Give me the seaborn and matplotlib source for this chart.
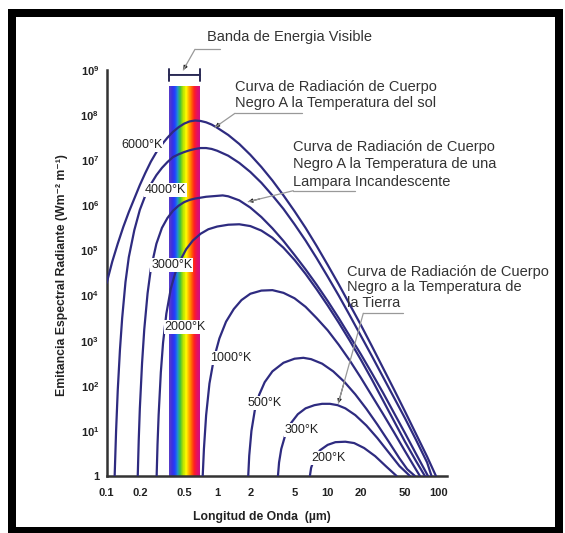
import numpy as np
import pandas as pd
import matplotlib
matplotlib.use("Agg")
import matplotlib.pyplot as plt
import seaborn as sns
from matplotlib.lines import Line2D
from matplotlib.patches import Rectangle
from matplotlib.colors import LinearSegmentedColormap

sns.set_style("white")
plt.rcParams['font.family'] = ['Liberation Sans', 'DejaVu Sans']
plt.rcParams['mathtext.fontset'] = 'custom'
plt.rcParams['mathtext.rm'] = 'Liberation Sans'
plt.rcParams['mathtext.bf'] = 'Liberation Sans:bold'
plt.rcParams['mathtext.it'] = 'Liberation Sans:italic'

# ------------- data: log10(wavelength, um) and log10(spectral emittance) -------------
t6000_lx = [-1.0, -0.95, -0.9, -0.85, -0.8, -0.75, -0.7, -0.65, -0.6, -0.55, -0.5, -0.45, -0.4,
            -0.35, -0.3, -0.25, -0.2, -0.15, -0.1, -0.05, 0.0, 0.1, 0.2, 0.3, 0.4, 0.5, 0.6, 0.7,
            0.8, 0.9, 1.0, 1.1, 1.2, 1.3, 1.4, 1.5, 1.6, 1.7, 1.8, 1.9, 1.98]
t6000_ly = [4.28, 4.75, 5.15, 5.52, 5.85, 6.15, 6.45, 6.72, 6.97, 7.18, 7.35, 7.50, 7.63,
            7.73, 7.81, 7.86, 7.88, 7.87, 7.84, 7.79, 7.72, 7.56, 7.36, 7.12, 6.85, 6.55, 6.22, 5.87,
            5.50, 5.10, 4.68, 4.25, 3.80, 3.35, 2.88, 2.40, 1.92, 1.43, 0.93, 0.43, 0.0]
t4000_lx = [-0.928, -0.915, -0.9, -0.88, -0.86, -0.83, -0.8, -0.75, -0.7, -0.65, -0.6, -0.55, -0.5,
            -0.45, -0.4, -0.35, -0.3, -0.25, -0.2, -0.15, -0.1, -0.05, 0.0, 0.1, 0.2, 0.3, 0.4, 0.5,
            0.6, 0.7, 0.8, 0.9, 1.0, 1.1, 1.2, 1.3, 1.4, 1.5, 1.6, 1.7, 1.8, 1.9, 1.94]
t4000_ly = [0.0, 1.0, 1.9, 2.8, 3.5, 4.3, 4.85, 5.45, 5.9, 6.22, 6.47, 6.67, 6.83,
            6.96, 7.07, 7.13, 7.18, 7.22, 7.25, 7.27, 7.27, 7.25, 7.21, 7.10, 6.94, 6.74, 6.50, 6.22,
            5.92, 5.58, 5.22, 4.83, 4.42, 4.00, 3.56, 3.11, 2.66, 2.20, 1.74, 1.28, 0.80, 0.30, 0.0]
t3000_lx = [-0.719, -0.71, -0.7, -0.68, -0.66, -0.63, -0.6, -0.55, -0.5, -0.45, -0.4, -0.35, -0.3,
            -0.25, -0.2, -0.1, 0.0, 0.05, 0.1, 0.2, 0.3, 0.4, 0.5, 0.6, 0.7, 0.8, 0.9, 1.0, 1.1, 1.2,
            1.3, 1.4, 1.5, 1.6, 1.7, 1.8, 1.908]
t3000_ly = [0.0, 0.8, 1.5, 2.5, 3.25, 4.05, 4.6, 5.15, 5.5, 5.72, 5.88, 5.99, 6.07,
            6.12, 6.15, 6.19, 6.21, 6.22, 6.2, 6.11, 5.95, 5.74, 5.49, 5.21, 4.90, 4.58, 4.24, 3.88,
            3.50, 3.10, 2.70, 2.28, 1.85, 1.40, 0.95, 0.49, 0.0]
t2000_lx = [-0.548, -0.54, -0.53, -0.51, -0.49, -0.46, -0.42, -0.38, -0.33, -0.28, -0.22, -0.15,
            -0.08, 0.0, 0.1, 0.2, 0.3, 0.4, 0.5, 0.6, 0.7, 0.8, 0.9, 1.0, 1.1, 1.2, 1.3, 1.4, 1.5,
            1.6, 1.7, 1.8, 1.88]
t2000_ly = [0.0, 0.7, 1.35, 2.3, 2.95, 3.6, 4.15, 4.5, 4.8, 5.03, 5.22, 5.37,
            5.47, 5.53, 5.57, 5.58, 5.54, 5.44, 5.28, 5.06, 4.79, 4.48, 4.14, 3.78, 3.40, 3.00, 2.58,
            2.14, 1.68, 1.22, 0.76, 0.33, 0.0]
t1000_lx = [-0.131, -0.12, -0.1, -0.07, -0.03, 0.02, 0.08, 0.15, 0.22, 0.3, 0.4, 0.5, 0.6, 0.7,
            0.8, 0.9, 1.0, 1.1, 1.2, 1.3, 1.4, 1.5, 1.6, 1.7, 1.8, 1.835]
t1000_ly = [0.0, 0.6, 1.35, 2.05, 2.6, 3.05, 3.42, 3.7, 3.9, 4.04, 4.11, 4.12, 4.06, 3.94,
            3.75, 3.5, 3.23, 2.91, 2.56, 2.18, 1.78, 1.38, 0.97, 0.55, 0.14, 0.0]
t500_lx = [0.281, 0.29, 0.31, 0.34, 0.38, 0.43, 0.5, 0.6, 0.7, 0.78, 0.85, 0.95, 1.05, 1.15, 1.25,
           1.35, 1.45, 1.55, 1.65, 1.72, 1.79]
t500_ly = [0.0, 0.45, 1.0, 1.45, 1.8, 2.08, 2.32, 2.51, 2.6, 2.62, 2.59, 2.49, 2.32, 2.09, 1.81,
           1.49, 1.14, 0.77, 0.39, 0.15, 0.0]
t300_lx = [0.55, 0.56, 0.58, 0.62, 0.67, 0.73, 0.8, 0.88, 0.95, 1.02, 1.09, 1.16, 1.25, 1.35, 1.45,
           1.55, 1.65, 1.745]
t300_ly = [0.0, 0.3, 0.6, 0.94, 1.18, 1.37, 1.5, 1.57, 1.6, 1.6, 1.57, 1.5, 1.35, 1.12, 0.84,
           0.53, 0.22, 0.0]
t200_lx = [0.839, 0.85, 0.88, 0.93, 1.0, 1.07, 1.16, 1.24, 1.33, 1.43, 1.53, 1.624]
t200_ly = [0.0, 0.18, 0.39, 0.57, 0.69, 0.75, 0.76, 0.73, 0.62, 0.44, 0.21, 0.0]

curve_names = ["6000", "4000", "3000", "2000", "1000", "500", "300", "200"]
curve_lxs = [t6000_lx, t4000_lx, t3000_lx, t2000_lx, t1000_lx, t500_lx, t300_lx, t200_lx]
curve_lys = [t6000_ly, t4000_ly, t3000_ly, t2000_ly, t1000_ly, t500_ly, t300_ly, t200_ly]

x_ticks = [0.1, 0.2, 0.5, 1, 2, 5, 10, 20, 50, 100]
x_ticklabels = ["0.1", "0.2", "0.5", "1", "2", "5", "10", "20", "50", "100"]
y_exps = list(range(0, 10))
y_ticklabels = ["1"] + [r"$\mathbf{10^{%d}}$" % e for e in range(1, 10)]

visible_band = (0.366, 0.70)
band_top_log = 8.65

temp_labels = ["6000°K", "4000°K", "3000°K", "2000°K", "1000°K", "500°K", "300°K", "200°K"]

# ---------------- figure ----------------
W, H = 565, 533
fig = plt.figure(figsize=(W / 100, H / 100), dpi=100)
fig.patch.set_facecolor("white")


def P(x, y):
    return (x / W, 1 - y / H)


ax = fig.add_axes([106.7 / W, 1 - 476 / H, (446.5 - 106.7) / W, (476 - 70) / H])
ax.set_xscale("log")
ax.set_yscale("log")
ax.set_xlim(0.1, 119)
ax.set_ylim(1, 1e9)

# visible band (rainbow)
cmap = LinearSegmentedColormap.from_list(
    "vis", ["#5a3cc8", "#3a30e0", "#2040ff", "#2090d0", "#40c040", "#b0e000",
            "#ffff00", "#ffb000", "#ff6a00", "#ff2020", "#e8105a", "#c8108a"])
nsl = 60
edges = np.logspace(np.log10(visible_band[0]), np.log10(visible_band[1]), nsl + 1)
for i in range(nsl):
    ax.axvspan(edges[i], edges[i + 1], ymin=0, ymax=band_top_log / 9,
               color=cmap(i / (nsl - 1)), lw=0, zorder=1)

# curves
rows = []
for name, lxs, lys in zip(curve_names, curve_lxs, curve_lys):
    for lx, ly in zip(lxs, lys):
        rows.append({"T": name, "x": 10 ** lx, "y": 10 ** ly})
df = pd.DataFrame(rows)
sns.lineplot(data=df, x="x", y="y", units="T", estimator=None, color="#2e2b80",
             lw=1.6, ax=ax, zorder=3, legend=False)

# axes styling
for s in ["top", "right"]:
    ax.spines[s].set_visible(False)
for s in ["left", "bottom"]:
    ax.spines[s].set_linewidth(1.8)
    ax.spines[s].set_color("#333333")
ax.set_xticks(x_ticks)
ax.set_xticklabels(x_ticklabels)
ax.set_yticks([10.0 ** e for e in y_exps])
ax.set_yticklabels(y_ticklabels)
ax.minorticks_off()
ax.tick_params(direction="out", length=4, width=1.5, color="#333333", labelsize=8)
ax.tick_params(axis="x", pad=5)
ax.tick_params(axis="y", pad=1.5)
for lab in ax.get_xticklabels() + ax.get_yticklabels():
    lab.set_fontweight("bold")
    lab.set_color("#222222")
ax.set_xlabel("")
ax.set_ylabel("")
fig.text(*P(262, 517), "Longitud de Onda  (µm)", fontsize=8.8, fontweight="bold",
         color="#222222", ha="center", va="center")
fig.text(*P(62, 275), "Emitancia Espectral Radiante (Wm⁻² m⁻¹)", fontsize=8.8,
         fontweight="bold", color="#222222", ha="center", va="center", rotation=90)

# temperature labels
label_pos = [(141.7, 145), (165, 190), (171.7, 265), (185, 326.7), (230.8, 358.3),
             (264.2, 402.7), (301.7, 430), (328.3, 458.3)]
for t, (px, py) in zip(temp_labels, label_pos):
    fig.text(*P(px, py), t, fontsize=9, color="#222222", ha="center", va="center", zorder=5,
             bbox=dict(facecolor="white", edgecolor="none", pad=0.6))

# bracket over visible band
yb = 10 ** 8.89
ax.annotate("", xy=(visible_band[1], yb), xytext=(visible_band[0], yb),
            arrowprops=dict(arrowstyle="|-|", color="#2a2a55", lw=1.4, mutation_scale=4,
                            shrinkA=0, shrinkB=0), annotation_clip=False)

# annotations
txt_kw = dict(fontsize=10.5, color="#333333", ha="left", va="center")
fig.text(*P(206.7, 36.7), "Banda de Energia Visible", **txt_kw)
fig.text(*P(235, 86.7), "Curva de Radiación de Cuerpo", **txt_kw)
fig.text(*P(235, 103.3), "Negro A la Temperatura del sol", **txt_kw)
fig.text(*P(293.3, 147.3), "Curva de Radiación de Cuerpo", **txt_kw)
fig.text(*P(293.3, 164), "Negro A la Temperatura de una", **txt_kw)
fig.text(*P(293.3, 181.7), "Lampara Incandescente", **txt_kw)
fig.text(*P(346.7, 271.7), "Curva de Radiación de Cuerpo", **txt_kw)
fig.text(*P(346.7, 286.7), "Negro a la Temperatura de", **txt_kw)
fig.text(*P(346.7, 303.3), "la Tierra", **txt_kw)

leaders = [((220, 49.3), (195, 49.3), (183.3, 70)),
           ((301.7, 113.3), (235, 113.3), (215, 127.3)),
           ((355, 190.7), (293.3, 190.7), (248.3, 201.7)),
           ((403.3, 313.3), (363.3, 313.3), (338.3, 403.3))]
for a, b, tip in leaders:
    fig.add_artist(Line2D([a[0] / W, b[0] / W], [1 - a[1] / H, 1 - b[1] / H],
                          color="#999999", lw=0.9))
    fig.add_artist(Line2D([b[0] / W, tip[0] / W], [1 - b[1] / H, 1 - tip[1] / H],
                          color="#999999", lw=0.9))
    ax.annotate("", xy=P(*tip),
                xytext=P(tip[0] + (b[0] - tip[0]) * 0.25, tip[1] + (b[1] - tip[1]) * 0.25),
                xycoords="figure fraction", textcoords="figure fraction",
                arrowprops=dict(arrowstyle="-|>", color="#222222", lw=0.8, mutation_scale=6,
                                shrinkA=0, shrinkB=0), annotation_clip=False)

# black frame
fig.add_artist(Rectangle((12 / W, 1 - 531 / H), (559 - 12) / W, (531 - 13) / H,
                         transform=fig.transFigure, fill=False, edgecolor="black",
                         lw=8 / 1.389))

fig.savefig("out.png", dpi=100)
